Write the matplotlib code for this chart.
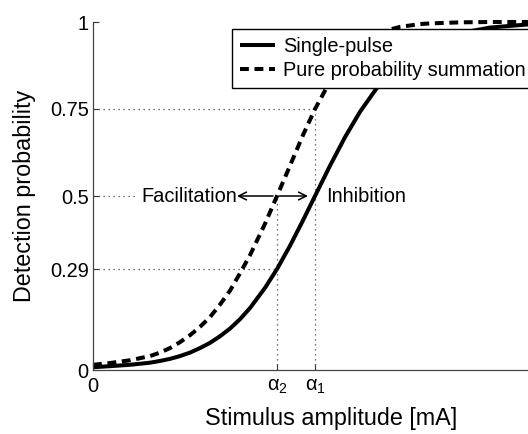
import matplotlib
matplotlib.use("Agg")
import matplotlib.pyplot as plt

plt.rcParams['font.family'] = ['Liberation Sans', 'DejaVu Sans']
plt.rcParams['mathtext.fontset'] = 'custom'
plt.rcParams['mathtext.rm'] = 'Liberation Sans'
plt.rcParams['mathtext.it'] = 'Liberation Sans'

# data (x in arbitrary stimulus units)
amplitude = [0, 0.17, 0.37, 0.57, 0.67, 0.77, 0.87, 0.97, 1.07, 1.17, 1.27, 1.37, 1.47,
             1.57, 1.72, 1.84, 1.97, 2.10, 2.22, 2.37, 2.52, 2.67, 2.85, 2.95, 3.07,
             3.17, 3.27, 3.37, 3.47, 3.67, 3.97, 4.35, 4.76]
single_pulse = [0.008, 0.011, 0.015, 0.021, 0.026, 0.032, 0.040, 0.05, 0.063, 0.078, 0.097,
                0.119, 0.146, 0.178, 0.236, 0.29, 0.357, 0.43, 0.5, 0.587, 0.669, 0.742,
                0.815, 0.848, 0.881, 0.903, 0.922, 0.937, 0.95, 0.968, 0.984, 0.993, 0.997]
summation = [0.015, 0.02, 0.028, 0.04, 0.05, 0.063, 0.08, 0.10, 0.124, 0.152, 0.188, 0.228,
             0.278, 0.33, 0.42, 0.5, 0.587, 0.675, 0.75, 0.829, 0.89, 0.933, 0.966, 0.977,
             0.986, 0.990, 0.994, 0.996, 0.997, 0.999, 1.0, 1.0, 1.0]
alpha2 = 1.84
alpha1 = 2.22
ytick_vals = [0, 0.29, 0.5, 0.75, 1]
ytick_labels = ['0', '0.29', '0.5', '0.75', '1']
xtick_labels = ['0', r'$\alpha_2$', r'$\alpha_1$']
series_labels = ['Single-pulse', 'Pure probability summation']

W, H = 528, 434
fig = plt.figure(figsize=(W / 100, H / 100), dpi=100)
left, right, bottom, top = 93, 569, 370, 22
ax = fig.add_axes([left / W, 1 - bottom / H, (right - left) / W, (bottom - top) / H])

ax.set_xlim(0, 4.76)
ax.set_ylim(0, 1)

dot = dict(color='#444444', lw=0.9, linestyle=(0, (1, 3)))
ax.plot([0, alpha1], [0.75, 0.75], **dot)
ax.plot([0, alpha2], [0.29, 0.29], **dot)
ax.plot([0, 0.45], [0.5, 0.5], **dot)
ax.plot([alpha2, alpha2], [0, 0.5], **dot)
ax.plot([alpha1, alpha1], [0, 0.75], **dot)

l1, = ax.plot(amplitude, single_pulse, color='black', lw=2.9, clip_on=False,
              solid_capstyle='butt', solid_joinstyle='round')
l2, = ax.plot(amplitude, summation, color='black', lw=2.9, clip_on=False,
              dashes=(2.2, 1.4))

# arrows
ax.annotate('', xy=(1.44, 0.5), xytext=(alpha2 - 0.04, 0.5),
            arrowprops=dict(arrowstyle='->', lw=1.1, color='black',
                            mutation_scale=14, shrinkA=0, shrinkB=0))
ax.annotate('', xy=(2.15, 0.5), xytext=(alpha2 + 0.02, 0.5),
            arrowprops=dict(arrowstyle='->', lw=1.1, color='black',
                            mutation_scale=14, shrinkA=0, shrinkB=0))
ax.text(1.44, 0.5, 'Facilitation', ha='right', va='center', fontsize=14.4)
ax.text(2.33, 0.5, 'Inhibition', ha='left', va='center', fontsize=14.4)

ax.set_yticks(ytick_vals)
ax.set_yticklabels(ytick_labels, fontsize=14.4)
ax.set_xticks([0, alpha2, alpha1])
ax.set_xticklabels(xtick_labels, fontsize=14.4)
ax.tick_params(direction='in', length=4, width=0.8, color='#333333', pad=3)
ax.tick_params(axis='x', pad=5)

for s in ['top', 'right']:
    ax.spines[s].set_visible(False)
for s in ['left', 'bottom']:
    ax.spines[s].set_color('#444444')
    ax.spines[s].set_linewidth(0.9)

ax.set_xlabel('Stimulus amplitude [mA]', fontsize=16.8, labelpad=8)
ax.set_ylabel('Detection probability', fontsize=16.8, labelpad=10)

leg = fig.legend([l1, l2], series_labels, loc='upper left',
                 bbox_to_anchor=(232 / W, 1 - 29 / H), fontsize=14.4,
                 frameon=True, fancybox=False, framealpha=1, handlelength=1.75,
                 handletextpad=0.4, borderpad=0.4, labelspacing=0.25,
                 borderaxespad=0)
leg.get_frame().set_edgecolor('black')
leg.get_frame().set_linewidth(1.0)

fig.savefig('out.png', dpi=100)
